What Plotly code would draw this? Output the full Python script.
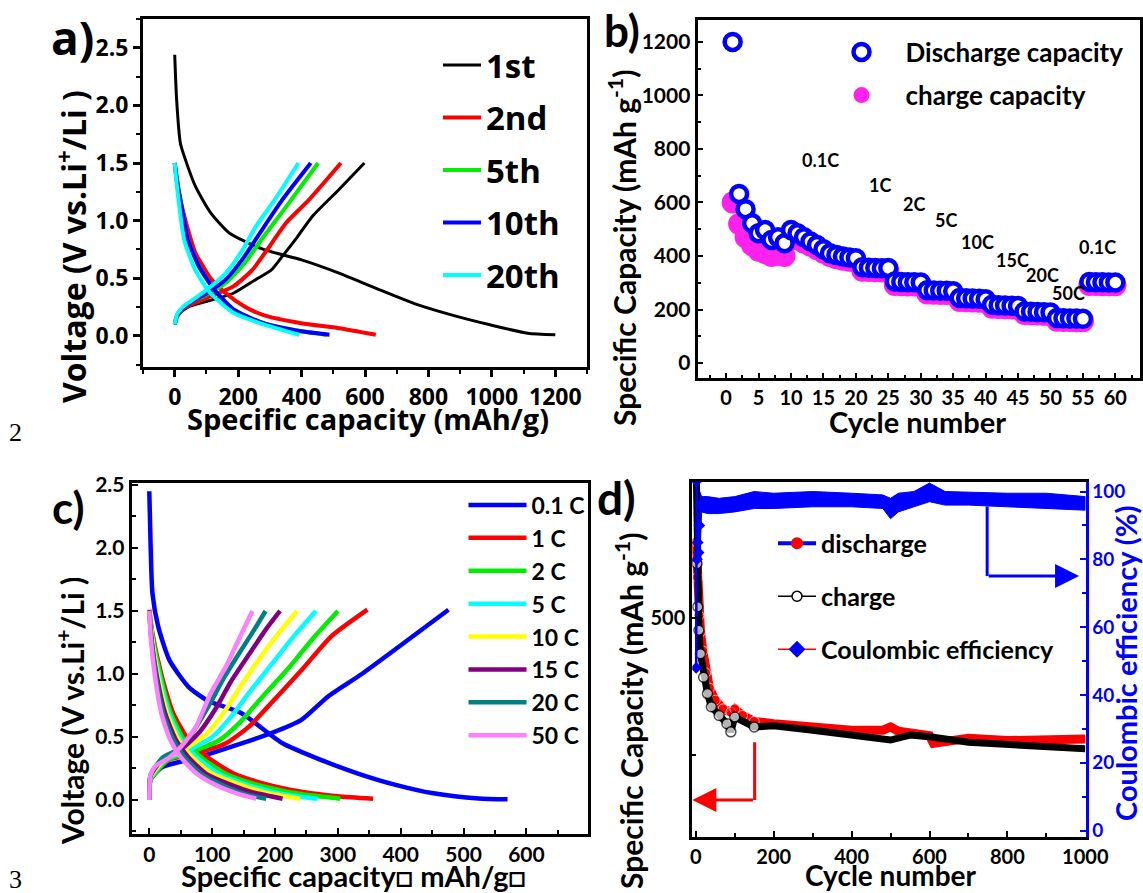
import plotly.graph_objects as go

W, H = 1143, 893
FA = "Open Sans"
FN = "Lato, sans-serif"

# ---------------- Panel a data (capacity mAh/g, voltage V) ----------------
a_labels = ["1st", "2nd", "5th", "10th", "20th"]
a_colors = ["#000000", "#FF0000", "#00EE00", "#0000FF", "#00FFFF"]
a_widths = [3, 4, 4, 4, 4]

a1_dis_cap = [0, 6, 18, 30, 65, 113, 173, 280, 400, 518, 637, 756, 875, 994, 1113, 1200]
a1_dis_v = [2.44, 2.05, 1.67, 1.56, 1.30, 1.07, 0.89, 0.75, 0.66, 0.545, 0.41, 0.28, 0.18, 0.096, 0.023, 0.01]
a1_chg_cap = [0, 8, 25, 50, 101, 185, 256, 304, 339, 387, 435, 518, 598]
a1_chg_v = [0.10, 0.17, 0.22, 0.26, 0.30, 0.37, 0.49, 0.57, 0.69, 0.86, 1.04, 1.27, 1.50]

a2_dis_cap = [0, 8, 18, 42, 65, 90, 113, 161, 220, 280, 399, 518, 634]
a2_dis_v = [1.50, 1.35, 1.18, 0.92, 0.72, 0.60, 0.50, 0.37, 0.255, 0.18, 0.11, 0.067, 0.01]
a2_chg_cap = [0, 8, 25, 50, 101, 185, 244, 292, 351, 423, 524]
a2_chg_v = [0.10, 0.17, 0.23, 0.27, 0.33, 0.43, 0.57, 0.75, 0.98, 1.18, 1.50]

a5_dis_cap = [0, 8, 18, 42, 77, 125, 185, 280, 399, 478]
a5_dis_v = [1.50, 1.32, 1.18, 0.83, 0.60, 0.40, 0.23, 0.11, 0.04, 0.01]
a5_chg_cap = [0, 8, 25, 50, 101, 161, 220, 280, 351, 452]
a5_chg_v = [0.10, 0.18, 0.24, 0.29, 0.36, 0.46, 0.63, 0.86, 1.12, 1.50]

a10_dis_cap = [0, 8, 18, 42, 77, 125, 185, 280, 399, 488]
a10_dis_v = [1.50, 1.32, 1.18, 0.83, 0.60, 0.40, 0.23, 0.11, 0.04, 0.01]
a10_chg_cap = [0, 8, 25, 50, 101, 161, 220, 268, 339, 429]
a10_chg_v = [0.10, 0.18, 0.24, 0.29, 0.37, 0.49, 0.69, 0.89, 1.18, 1.50]

a20_dis_cap = [0, 5, 12, 30, 65, 113, 185, 280, 393]
a20_dis_v = [1.50, 1.35, 1.18, 0.83, 0.57, 0.37, 0.20, 0.10, 0.01]
a20_chg_cap = [0, 8, 25, 50, 101, 161, 208, 256, 315, 390]
a20_chg_v = [0.10, 0.19, 0.25, 0.30, 0.40, 0.545, 0.72, 0.95, 1.18, 1.50]

# ---------------- Panel b data ----------------
b_cycles = list(range(1, 61))
b_discharge = [1200, 632, 575, 522, 485, 497, 460, 470, 448, 497,
               485, 470, 454, 441, 425, 410, 404, 398, 394, 392,
               358, 356, 355, 354, 355, 305, 303, 302, 302, 301,
               272, 271, 270, 270, 268, 243, 242, 241, 240, 238,
               218, 216, 215, 214, 213, 193, 192, 191, 190, 189,
               168, 167, 166, 166, 165, 303, 302, 302, 301, 301]
b_charge = [600, 520, 470, 440, 420, 410, 400, 405, 400, 470,
            462, 450, 438, 425, 412, 400, 392, 386, 382, 378,
            345, 344, 343, 342, 342, 292, 291, 290, 290, 289,
            260, 259, 258, 258, 257, 232, 231, 230, 229, 228,
            207, 206, 205, 204, 203, 183, 182, 181, 180, 180,
            158, 157, 157, 156, 156, 292, 292, 291, 291, 291]
b_rate_text = ["0.1C", "1C", "2C", "5C", "10C", "15C", "20C", "50C", "0.1C"]
b_rate_x = [14.5, 23.7, 29.0, 33.9, 38.8, 44.2, 48.8, 52.8, 57.3]
b_rate_y = [759, 665, 594, 535, 453, 386, 330, 263, 434]

# ---------------- Panel c data ----------------
c_labels = ["0.1 C", "1 C", "2 C", "5 C", "10 C", "15 C", "20 C", "50 C"]
c_colors = ["#0000FF", "#FF0000", "#00EE00", "#00FFFF", "#FFFF00", "#800080", "#008080", "#FF80FF"]

c01_dis_cap = [0, 2, 5, 14, 32, 62, 92, 146, 212, 272, 332, 392, 452, 524, 570]
c01_dis_v = [2.45, 2.04, 1.64, 1.38, 1.11, 0.90, 0.79, 0.69, 0.45, 0.32, 0.21, 0.12, 0.053, 0.012, 0.005]
c01_chg_cap = [0, 2, 20, 62, 98, 194, 242, 284, 338, 398, 476]
c01_chg_v = [0.0, 0.16, 0.26, 0.32, 0.37, 0.53, 0.635, 0.82, 1.0, 1.22, 1.51]

c1_dis_cap = [0, 5, 20, 38, 62, 92, 134, 182, 242, 300, 356]
c1_dis_v = [1.51, 1.32, 0.98, 0.69, 0.48, 0.34, 0.21, 0.13, 0.066, 0.03, 0.01]
c1_chg_cap = [0, 2, 32, 74, 122, 158, 194, 242, 290, 347]
c1_chg_v = [0.0, 0.16, 0.32, 0.37, 0.45, 0.58, 0.77, 1.03, 1.30, 1.51]

c2_dis_cap = [0, 5, 18, 34, 55, 82, 120, 165, 215, 260, 304]
c2_dis_v = [1.5, 1.3, 0.98, 0.69, 0.48, 0.34, 0.21, 0.13, 0.07, 0.035, 0.01]
c2_chg_cap = [0, 2, 30, 66, 110, 145, 180, 222, 260, 300]
c2_chg_v = [0.0, 0.16, 0.32, 0.38, 0.47, 0.62, 0.82, 1.05, 1.28, 1.5]

c5_dis_cap = [0, 4, 16, 31, 50, 75, 110, 150, 200, 235, 268]
c5_dis_v = [1.5, 1.3, 0.98, 0.69, 0.48, 0.34, 0.21, 0.13, 0.06, 0.03, 0.01]
c5_chg_cap = [0, 2, 28, 60, 100, 130, 160, 195, 230, 265]
c5_chg_v = [0.0, 0.17, 0.33, 0.39, 0.50, 0.66, 0.86, 1.08, 1.30, 1.5]

c10_dis_cap = [0, 4, 14, 28, 46, 68, 100, 140, 185, 240]
c10_dis_v = [1.5, 1.3, 0.98, 0.69, 0.48, 0.34, 0.21, 0.13, 0.06, 0.01]
c10_chg_cap = [0, 2, 26, 55, 90, 118, 145, 175, 205, 235]
c10_chg_v = [0.0, 0.18, 0.33, 0.40, 0.52, 0.69, 0.90, 1.12, 1.32, 1.5]

c15_dis_cap = [0, 3, 12, 25, 42, 62, 90, 125, 165, 212]
c15_dis_v = [1.5, 1.3, 0.98, 0.69, 0.48, 0.34, 0.21, 0.13, 0.06, 0.01]
c15_chg_cap = [0, 2, 24, 50, 80, 105, 130, 158, 185, 208]
c15_chg_v = [0.0, 0.19, 0.34, 0.40, 0.54, 0.72, 0.94, 1.15, 1.35, 1.5]

c20_dis_cap = [0, 3, 11, 22, 38, 56, 82, 115, 150, 186]
c20_dis_v = [1.5, 1.3, 0.98, 0.69, 0.48, 0.34, 0.21, 0.12, 0.05, 0.01]
c20_chg_cap = [0, 2, 22, 46, 72, 96, 120, 145, 168, 185]
c20_chg_v = [0.0, 0.2, 0.34, 0.40, 0.56, 0.76, 0.98, 1.18, 1.36, 1.5]

c50_dis_cap = [0, 2, 9, 19, 33, 50, 75, 105, 140, 170]
c50_dis_v = [1.5, 1.3, 0.98, 0.69, 0.48, 0.34, 0.21, 0.12, 0.05, 0.01]
c50_chg_cap = [0, 2, 10, 30, 50, 74, 98, 122, 140, 164]
c50_chg_v = [0.0, 0.2, 0.27, 0.33, 0.42, 0.58, 0.85, 1.06, 1.25, 1.5]

# ---------------- Panel d data ----------------
d_dis_cycles = [1, 4, 8, 12, 18, 25, 35, 50, 70, 90, 100, 120, 150, 200, 300, 400, 480, 500, 520, 600, 610, 700, 800, 900, 1000]
d_discharge = [640, 575, 505, 475, 440, 400, 372, 350, 334, 328, 334, 322, 311, 307, 301, 295, 295, 301, 293, 285, 271, 280, 276, 276, 279]
d_chg_cycles = [1, 3, 5, 8, 12, 20, 30, 40, 60, 80, 90, 100, 150, 200, 300, 400, 450, 500, 550, 600, 700, 800, 900, 1000]
d_charge = [780, 600, 521, 478, 435, 392, 362, 338, 322, 307, 292, 319, 301, 303, 295, 286, 282, 277, 286, 283, 273, 269, 266, 261]
d_ce_cycles = [1, 2, 3, 5, 7, 9, 11]
d_ce = [48, 103, 80, 85, 82, 90, 96]
d_band_cycles = [10, 15, 30, 60, 100, 150, 200, 300, 400, 480, 500, 520, 560, 600, 640, 700, 800, 900, 1000]
d_band_upper = [100, 98.5, 98.5, 98, 98.5, 100, 99.5, 100, 99.5, 99, 98, 99.5, 100, 102.5, 100, 99.8, 99.5, 99.5, 98.5]
d_band_lower = [80, 94, 93.5, 93.5, 94, 95, 95, 95.5, 95.5, 95, 92, 94, 95.5, 97, 96, 96, 95.5, 95, 94.5]


def tf(fam, size, color="black"):
    return dict(family=fam, size=size, color=color, weight="bold")


fig = go.Figure()


def curve(x, y, color, width, xa, ya, name, legend, show, group=None):
    fig.add_trace(go.Scatter(
        x=x, y=y, mode="lines", name=name,
        line=dict(color=color, width=width, shape="spline", smoothing=0.6),
        xaxis=xa, yaxis=ya, legend=legend, showlegend=show, legendgroup=group,
        hoverinfo="skip"))


# Panel a
a_sets = [(a1_dis_cap, a1_dis_v, a1_chg_cap, a1_chg_v),
          (a2_dis_cap, a2_dis_v, a2_chg_cap, a2_chg_v),
          (a5_dis_cap, a5_dis_v, a5_chg_cap, a5_chg_v),
          (a10_dis_cap, a10_dis_v, a10_chg_cap, a10_chg_v),
          (a20_dis_cap, a20_dis_v, a20_chg_cap, a20_chg_v)]
for lab, col, lw, (dx, dy, cx, cy) in zip(a_labels, a_colors, a_widths, a_sets):
    curve(dx, dy, col, lw, "x", "y", lab, "legend", True, "a" + lab)
    curve(cx, cy, col, lw, "x", "y", lab, "legend", False, "a" + lab)

# Panel b
fig.add_trace(go.Scatter(
    x=b_cycles, y=b_charge, mode="markers", name="charge capacity",
    marker=dict(symbol="circle", size=22, color="#FF22EE", line=dict(width=0)),
    xaxis="x2", yaxis="y2", legend="legend2", legendgroup="bc", legendrank=2, hoverinfo="skip"))
fig.add_trace(go.Scatter(
    x=b_cycles, y=b_discharge, mode="markers", name="Discharge capacity",
    marker=dict(symbol="circle", size=16, color="white", line=dict(width=4.5, color="#0000FF")),
    xaxis="x2", yaxis="y2", legend="legend2", legendgroup="bd", legendrank=1, hoverinfo="skip"))

# Panel c
c_sets = [(c01_dis_cap, c01_dis_v, c01_chg_cap, c01_chg_v),
          (c1_dis_cap, c1_dis_v, c1_chg_cap, c1_chg_v),
          (c2_dis_cap, c2_dis_v, c2_chg_cap, c2_chg_v),
          (c5_dis_cap, c5_dis_v, c5_chg_cap, c5_chg_v),
          (c10_dis_cap, c10_dis_v, c10_chg_cap, c10_chg_v),
          (c15_dis_cap, c15_dis_v, c15_chg_cap, c15_chg_v),
          (c20_dis_cap, c20_dis_v, c20_chg_cap, c20_chg_v),
          (c50_dis_cap, c50_dis_v, c50_chg_cap, c50_chg_v)]
for lab, col, (dx, dy, cx, cy) in zip(c_labels, c_colors, c_sets):
    curve(dx, dy, col, 4.5, "x3", "y3", lab, "legend3", True)
    curve(cx, cy, col, 4.5, "x3", "y3", lab, "legend3", False)

# Panel d
fig.add_trace(go.Scatter(
    x=d_band_cycles + d_band_cycles[::-1], y=d_band_upper + d_band_lower[::-1],
    mode="lines", fill="toself", fillcolor="#0000FF", line=dict(color="#0000FF", width=1),
    xaxis="x4", yaxis="y5", showlegend=False, hoverinfo="skip"))
fig.add_trace(go.Scatter(
    x=d_ce_cycles, y=d_ce, mode="lines+markers",
    line=dict(color="#0000FF", width=2.5), marker=dict(symbol="diamond", size=9, color="#0000FF"),
    xaxis="x4", yaxis="y5", showlegend=False, hoverinfo="skip"))
fig.add_trace(go.Scatter(
    x=d_dis_cycles, y=d_discharge, mode="lines+markers",
    line=dict(color="#FF0000", width=9),
    marker=dict(symbol="circle", size=[10 if c <= 150 else 0 for c in d_dis_cycles], color="#FF0000"),
    xaxis="x4", yaxis="y4", showlegend=False, hoverinfo="skip"))
fig.add_trace(go.Scatter(
    x=d_chg_cycles, y=d_charge, mode="lines+markers",
    line=dict(color="#000000", width=7),
    marker=dict(symbol="circle", size=[10 if c <= 150 else 0 for c in d_chg_cycles], color="white",
                line=dict(color="black", width=1.5)),
    xaxis="x4", yaxis="y4", showlegend=False, hoverinfo="skip"))
# legend-only entries for panel d
fig.add_trace(go.Scatter(x=[None], y=[None], mode="lines+markers", name="discharge",
                         line=dict(color="#0000FF", width=4), marker=dict(symbol="circle", size=12, color="#FF0000"),
                         xaxis="x4", yaxis="y4", legend="legend4", legendgroup="d1"))
fig.add_trace(go.Scatter(x=[None], y=[None], mode="lines+markers", name="charge",
                         line=dict(color="#000000", width=1.5),
                         marker=dict(symbol="circle", size=10, color="white", line=dict(color="black", width=1.5)),
                         xaxis="x4", yaxis="y4", legend="legend4", legendgroup="d2"))
fig.add_trace(go.Scatter(x=[None], y=[None], mode="lines+markers", name="Coulombic efficiency",
                         line=dict(color="#FF0000", width=1.5), marker=dict(symbol="diamond", size=13, color="#0000FF"),
                         xaxis="x4", yaxis="y4", legend="legend4", legendgroup="d3"))


def ax_common(**kw):
    base = dict(showline=True, linewidth=3, linecolor="black", showgrid=False, zeroline=False,
                tickcolor="black", tickangle=0)
    base.update(kw)
    return base


def minor(ticks, length, dtick, color="black"):
    return dict(ticks=ticks, ticklen=length, tickwidth=2, dtick=dtick, tickcolor=color, showgrid=False)


fig.update_layout(
    width=W, height=H,
    margin=dict(l=0, r=0, t=0, b=0, autoexpand=False),
    paper_bgcolor="white", plot_bgcolor="white",
    xaxis=ax_common(domain=[143 / W, 587 / W], range=[-100, 1300], anchor="y", mirror=True,
                    ticks="outside", ticklen=7, tickwidth=2.5, tick0=0, dtick=200,
                    tickfont=tf(FA, 23), minor=minor("outside", 4, 100)),
    yaxis=ax_common(domain=[1 - 367 / H, 1 - 19 / H], range=[-0.27, 2.75], anchor="x", mirror=True,
                    ticks="outside", ticklen=7, tickwidth=2.5, tick0=0, dtick=0.5, tickformat=".1f",
                    tickfont=tf(FA, 23), minor=minor("outside", 4, 0.25)),
    xaxis2=ax_common(domain=[697.6 / W, 1140 / W], range=[-4.4, 63.8], anchor="y2", mirror=True,
                     ticks="inside", ticklen=5, tickwidth=2, tick0=0, dtick=5,
                     tickfont=tf(FN, 20), minor=minor("inside", 3, 2.5)),
    yaxis2=ax_common(domain=[1 - 378 / H, 1 - 20 / H], range=[-56, 1282], anchor="x2", mirror=True,
                     ticks="inside", ticklen=5, tickwidth=2, tick0=0, dtick=200,
                     tickfont=tf(FN, 21), minor=minor("inside", 3, 100)),
    xaxis3=ax_common(domain=[131.7 / W, 588 / W], range=[-28, 698], anchor="y3", mirror=True,
                     ticks="inside", ticklen=6, tickwidth=2, tick0=0, dtick=100,
                     tickfont=tf(FN, 21), minor=minor("inside", 4, 50)),
    yaxis3=ax_common(domain=[1 - 834 / H, 1 - 482.7 / H], range=[-0.27, 2.518], anchor="x3", mirror=True,
                     ticks="inside", ticklen=6, tickwidth=2, tick0=0, dtick=0.5, tickformat=".1f",
                     tickfont=tf(FN, 21), minor=minor("inside", 4, 0.25)),
    xaxis4=ax_common(domain=[692.3 / W, 1085.5 / W], range=[-9, 1000.5], anchor="y4", mirror=True,
                     ticks="inside", ticklen=6, tickwidth=2, tick0=0, dtick=200,
                     tickfont=tf(FN, 20), minor=minor("inside", 4, 100)),
    yaxis4=ax_common(domain=[1 - 836.7 / H, 1 - 481.7 / H], range=[100, 750], anchor="x4",
                     ticks="inside", ticklen=6, tickwidth=2, tickmode="array", tickvals=[500],
                     tickfont=tf(FN, 20),
                     minor=dict(ticks="inside", ticklen=4, tickwidth=2, tickmode="array", tickvals=[250],
                                tickcolor="black", showgrid=False)),
    yaxis5=ax_common(overlaying="y4", side="right", anchor="x4", range=[-1.8, 102.9],
                     linecolor="#0000FF", tickcolor="#0000FF",
                     ticks="inside", ticklen=6, tickwidth=2, tick0=0, dtick=20,
                     tickfont=tf(FN, 19, "#0000FF"), minor=minor("inside", 4, 10, "#0000FF")),
    legend=dict(x=438 / W, y=1 - 37 / H, xanchor="left", yanchor="top", bgcolor="rgba(0,0,0,0)",
                font=tf(FA, 33), itemwidth=38, traceorder="grouped", tracegroupgap=6.6),
    legend2=dict(x=817.5 / W, y=1 - 28.5 / H, xanchor="left", yanchor="top", bgcolor="rgba(0,0,0,0)",
                 font=tf(FN, 26), itemwidth=78, traceorder="grouped", tracegroupgap=6.4),
    legend3=dict(x=463.5 / W, y=1 - 483.5 / H, xanchor="left", yanchor="top", bgcolor="rgba(0,0,0,0)",
                 font=tf(FN, 23), itemwidth=58, traceorder="normal"),
    legend4=dict(x=773 / W, y=1 - 520.5 / H, xanchor="left", yanchor="top", bgcolor="rgba(0,0,0,0)",
                 font=tf(FN, 25), itemwidth=38, traceorder="grouped", tracegroupgap=17.5),
)

ann = []


def text(x, y, s, fam, size, color="black", angle=0, weight="bold"):
    ann.append(dict(x=x / W, y=1 - y / H, xref="paper", yref="paper", text=s, showarrow=False,
                    xanchor="center", yanchor="middle", textangle=angle,
                    font=dict(family=fam, size=size, color=color, weight=weight)))


# panel letters
text(72, 37, "a)", FA, 46)
text(622, 30, "b)", FN, 44)
text(68, 507, "c)", FN, 44)
text(616, 497, "d)", FN, 46)
text(15, 432, "2", "Liberation Serif", 26, weight="normal")
text(15, 879, "3", "Liberation Serif", 26, weight="normal")
# axis titles
text(368, 418, "Specific capacity (mAh/g)", FA, 29)
text(72, 247, "Voltage (V vs.Li<sup>+</sup>/Li )", FA, 32, angle=-90)
text(917, 421, "Cycle number", FN, 29)
text(622, 248, "Specific Capacity (mAh g<sup>-1</sup>)", FN, 30, angle=-90)
text(353, 875, "Specific capacity\u25a1 mAh/g\u25a1", FN, 29)
text(70, 711, "Voltage (V vs.Li<sup>+</sup>/Li )", FN, 30, angle=-90)
text(891, 875, "Cycle number", FN, 28)
text(629, 711, "Specific Capacity (mAh g<sup>-1</sup>)", FN, 30, angle=-90)
text(1125, 664, "Coulombic efficiency (%)", FN, 29, color="#0000FF", angle=-90)

# rate labels in panel b
for s, x, y in zip(b_rate_text, b_rate_x, b_rate_y):
    ann.append(dict(x=x, y=y, xref="x2", yref="y2", text=s, showarrow=False,
                    xanchor="center", yanchor="middle", font=tf(FN, 18)))

# arrows in panel d
ce_arrow_cycle, ce_arrow_top, ce_arrow_level, ce_arrow_tip = 748, 95.6, 75.1, 984
cap_arrow_cycle, cap_arrow_top, cap_arrow_level, cap_arrow_tip = 151, 273, 167, -9
ann.append(dict(x=ce_arrow_tip, y=ce_arrow_level, ax=ce_arrow_cycle, ay=ce_arrow_level,
                xref="x4", yref="y5", axref="x4", ayref="y5", text="", showarrow=True,
                arrowhead=2, arrowsize=1.6, arrowwidth=3, arrowcolor="#0000FF"))
ann.append(dict(x=cap_arrow_tip, y=cap_arrow_level, ax=cap_arrow_cycle, ay=cap_arrow_level,
                xref="x4", yref="y4", axref="x4", ayref="y4", text="", showarrow=True,
                arrowhead=2, arrowsize=1.6, arrowwidth=3, arrowcolor="#FF0000"))
fig.update_layout(annotations=ann, shapes=[
    dict(type="line", xref="x4", yref="y5", x0=ce_arrow_cycle, x1=ce_arrow_cycle,
         y0=ce_arrow_top, y1=ce_arrow_level, line=dict(color="#0000FF", width=3)),
    dict(type="line", xref="x4", yref="y4", x0=cap_arrow_cycle, x1=cap_arrow_cycle,
         y0=cap_arrow_top, y1=cap_arrow_level, line=dict(color="#FF0000", width=3)),
])

fig.write_html("out.html")
